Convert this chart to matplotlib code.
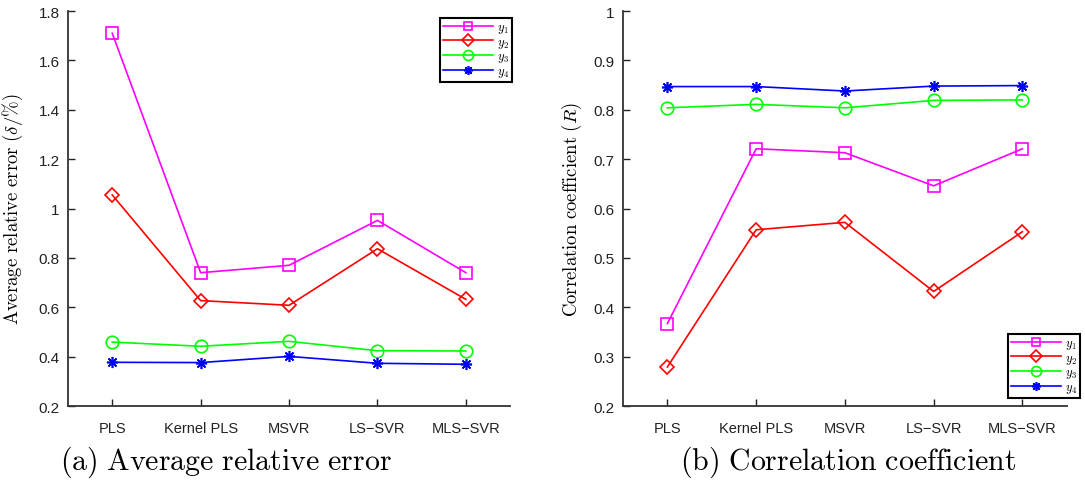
import matplotlib
matplotlib.use("Agg")
import matplotlib.pyplot as plt

plt.rcParams['mathtext.fontset'] = 'cm'
plt.rcParams['font.family'] = ['Liberation Sans', 'DejaVu Sans']

methods = ['PLS', 'Kernel PLS', 'MSVR', 'LS\u2212SVR', 'MLS\u2212SVR']
labels = ['$y_1$', '$y_2$', '$y_3$', '$y_4$']

# (a) average relative error
err_y1 = [1.71, 0.74, 0.77, 0.952, 0.74]
err_y2 = [1.055, 0.627, 0.608, 0.837, 0.632]
err_y3 = [0.459, 0.442, 0.462, 0.424, 0.423]
err_y4 = [0.377, 0.376, 0.401, 0.373, 0.369]

# (b) correlation coefficient
r_y1 = [0.367, 0.721, 0.713, 0.646, 0.721]
r_y2 = [0.279, 0.557, 0.572, 0.432, 0.553]
r_y3 = [0.804, 0.811, 0.804, 0.819, 0.820]
r_y4 = [0.847, 0.847, 0.838, 0.848, 0.849]

colors = ['#ff00ff', '#ff0000', '#00ff00', '#0000ff']
markers = ['s', 'D', 'o', (8, 2, 0)]
msizes = [8, 7.5, 9, 8]

fig = plt.figure(figsize=(10.85, 4.85), dpi=100)
ax1 = fig.add_axes([0.0627, 0.1608, 0.4074, 0.8144])
ax2 = fig.add_axes([0.5742, 0.1608, 0.409, 0.8144])

x = range(1, len(methods) + 1)


def draw(ax, series, ylim, yticks, ylabel):
    for s, c, m, ms, lab in zip(series, colors, markers, msizes, labels):
        ax.plot(x, s, color=c, marker=m, markersize=ms, markerfacecolor='none',
                markeredgecolor=c, markeredgewidth=1.2, linewidth=1.2, label=lab)
    ax.set_xlim(0.5, 5.5)
    ax.set_ylim(*ylim)
    ax.set_yticks(yticks)
    ax.set_yticklabels([('%g' % t) for t in yticks], fontsize=11)
    ax.set_xticks(list(x))
    ax.set_xticklabels(methods, fontsize=10.5)
    ax.spines['top'].set_visible(False)
    ax.spines['right'].set_visible(False)
    for sp in ['left', 'bottom']:
        ax.spines[sp].set_linewidth(1.3)
        ax.spines[sp].set_color('#333333')
    ax.tick_params(direction='in', length=5, width=1, colors='#222222')
    ax.tick_params(axis='x', pad=11)
    ax.tick_params(axis='y', pad=6)
    ax.set_ylabel(ylabel, fontsize=13.5)


draw(ax1, [err_y1, err_y2, err_y3, err_y4], (0.2, 1.8),
     [0.2, 0.4, 0.6, 0.8, 1.0, 1.2, 1.4, 1.6, 1.8],
     r'$\mathrm{Average\ relative\ error}\ (\delta/\%)$')
draw(ax2, [r_y1, r_y2, r_y3, r_y4], (0.2, 1.0),
     [0.2, 0.3, 0.4, 0.5, 0.6, 0.7, 0.8, 0.9, 1.0],
     r'$\mathrm{Correlation\ coefficient}\ (R)$')
ax1.yaxis.set_label_coords(-0.098, 0.5)
ax2.yaxis.set_label_coords(-0.088, 0.5)

leg_kw = dict(fontsize=9, handlelength=4.0, handletextpad=0.3, labelspacing=0.05,
              borderpad=0.25, fancybox=False, framealpha=1, borderaxespad=0,
              handleheight=0.7, markerscale=0.8)
leg1 = ax1.legend(loc='upper right', bbox_to_anchor=(512 / 1085, 1 - 19 / 485),
                  bbox_transform=fig.transFigure, **leg_kw)
leg2 = ax2.legend(loc='lower right', bbox_to_anchor=(1080 / 1085, 1 - 399 / 485),
                  bbox_transform=fig.transFigure, **leg_kw)
for leg in (leg1, leg2):
    leg.get_frame().set_edgecolor('black')
    leg.get_frame().set_linewidth(1.5)

fig.text(0.208, 0.047, r'$\mathrm{(a)\ Average\ relative\ error}$',
         fontsize=21.5, ha='center', va='center')
fig.text(0.782, 0.047, r'$\mathrm{(b)\ Correlation\ coefficient}$',
         fontsize=21.5, ha='center', va='center')

fig.savefig('out.png', dpi=100)
